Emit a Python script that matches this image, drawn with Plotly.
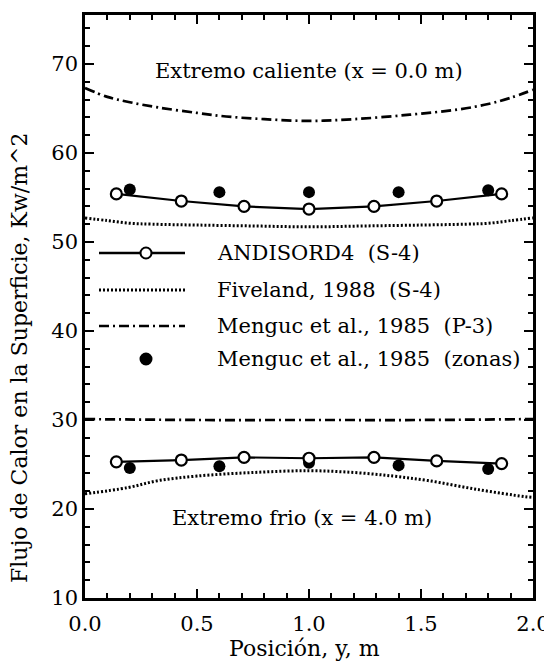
import plotly.graph_objects as go

# ---------------- data ----------------
# ANDISORD4 (S-4)
and_x = [0.14, 0.43, 0.71, 1.0, 1.29, 1.57, 1.86]
and_hot = [55.4, 54.6, 54.0, 53.7, 54.0, 54.6, 55.4]
and_cold = [25.3, 25.5, 25.8, 25.7, 25.8, 25.4, 25.1]

# Menguc et al., 1985 (zonas)
zon_x = [0.2, 0.6, 1.0, 1.4, 1.8]
zon_hot = [55.9, 55.6, 55.6, 55.6, 55.8]
zon_cold = [24.6, 24.8, 25.2, 24.9, 24.5]

# Fiveland, 1988 (S-4)
fiv_hot_x = [0.0, 0.1, 0.2, 0.3, 0.5, 0.75, 1.0, 1.25, 1.5, 1.7, 1.8, 1.9, 2.0]
fiv_hot = [52.7, 52.4, 52.1, 52.0, 51.9, 51.8, 51.7, 51.8, 51.9, 52.0, 52.1, 52.4, 52.7]
fiv_cold_x = [0.0, 0.19, 0.33, 0.5, 0.75, 1.0, 1.2, 1.375, 1.53, 1.75, 1.96, 2.0]
fiv_cold = [21.7, 22.4, 23.2, 23.7, 24.1, 24.3, 24.1, 23.7, 23.2, 22.2, 21.4, 21.3]

# Menguc et al., 1985 (P-3)
p3_hot_x = [0.0, 0.1, 0.2, 0.33, 0.5, 0.63, 0.8, 1.0, 1.2, 1.45, 1.67, 1.8, 1.9, 2.0]
p3_hot = [67.3, 66.3, 65.7, 65.1, 64.5, 64.1, 63.8, 63.6, 63.8, 64.3, 64.9, 65.5, 66.2, 67.1]
p3_cold_x = [0.0, 0.5, 1.0, 1.5, 2.0]
p3_cold = [30.1, 30.0, 30.0, 30.0, 30.1]

legend_names = ["ANDISORD4  (S-4)", "Fiveland, 1988  (S-4)",
                "Menguc et al., 1985  (P-3)", "Menguc et al., 1985  (zonas)"]

FONT = "DejaVu Serif"
BLACK = "black"
DOT = "2px,2px"
DASHDOT = "10px,4px,2px,4px"

fig = go.Figure()

# Fiveland dotted
for xs, ys in [(fiv_hot_x, fiv_hot), (fiv_cold_x, fiv_cold)]:
    fig.add_trace(go.Scatter(x=xs, y=ys, mode="lines", name=legend_names[1],
                             line=dict(color=BLACK, width=3, dash=DOT, shape="spline"),
                             showlegend=False))
# Menguc P-3 dash-dot
for xs, ys in [(p3_hot_x, p3_hot), (p3_cold_x, p3_cold)]:
    fig.add_trace(go.Scatter(x=xs, y=ys, mode="lines", name=legend_names[2],
                             line=dict(color=BLACK, width=2.7, dash=DASHDOT, shape="spline"),
                             showlegend=False))
# Menguc zonas (filled)
for ys in [zon_hot, zon_cold]:
    fig.add_trace(go.Scatter(x=zon_x, y=ys, mode="markers", name=legend_names[3],
                             marker=dict(color=BLACK, size=12, symbol="circle"),
                             showlegend=False))
# ANDISORD4 open circles with line
for ys in [and_hot, and_cold]:
    fig.add_trace(go.Scatter(x=and_x, y=ys, mode="lines+markers", name=legend_names[0],
                             line=dict(color=BLACK, width=2.2),
                             marker=dict(color="white", size=11, symbol="circle",
                                         line=dict(color=BLACK, width=2.2)),
                             showlegend=False))

# ---------------- layout geometry ----------------
# page has an 8px body margin; plot frame in page px: x 85..533, y 15..598
OFF = 8
W, H = 552 - OFF, 664 - OFF
L, R, T, B = 85, 533, 15, 598

def px2paper_x(px):
    return (px - L) / float(R - L)

def px2paper_y(py):
    return (B - py) / float(B - T)

shapes = []
annotations = []
rows_py = [253, 290, 326, 359]
styles = [dict(width=2.5, dash="solid"), dict(width=3, dash=DOT),
          dict(width=2.7, dash=DASHDOT), None]
for name, py, st in zip(legend_names, rows_py, styles):
    yy = px2paper_y(py)
    if st is not None:
        shapes.append(dict(type="line", xref="paper", yref="paper",
                           x0=px2paper_x(99), x1=px2paper_x(185), y0=yy, y1=yy,
                           line=dict(color=BLACK, width=st["width"], dash=st["dash"])))
    annotations.append(dict(text=name, xref="paper", yref="paper",
                            x=px2paper_x(215), y=yy, xanchor="left", yanchor="middle",
                            showarrow=False, font=dict(family=FONT, size=21, color=BLACK)))
# legend marker circles
for py, fill in [(rows_py[0], "white"), (rows_py[3], BLACK)]:
    cx, cy = px2paper_x(146), px2paper_y(py)
    rx, ry = 5.5 / float(R - L), 5.5 / float(B - T)
    shapes.append(dict(type="circle", xref="paper", yref="paper",
                       x0=cx - rx, x1=cx + rx, y0=cy - ry, y1=cy + ry,
                       fillcolor=fill, line=dict(color=BLACK, width=2)))

# region labels
annotations.append(dict(text="Extremo caliente (x = 0.0 m)", x=1.0, y=69.2,
                        xref="x", yref="y", showarrow=False,
                        font=dict(family=FONT, size=21, color=BLACK)))
annotations.append(dict(text="Extremo frio (x = 4.0 m)", x=0.97, y=19.0,
                        xref="x", yref="y", showarrow=False,
                        font=dict(family=FONT, size=21, color=BLACK)))
# y title
annotations.append(dict(text="Flujo de Calor en la Superficie, Kw/m^2",
                        xref="paper", yref="paper", x=px2paper_x(20), y=px2paper_y(358),
                        textangle=-90, showarrow=False, xanchor="center", yanchor="middle",
                        font=dict(family=FONT, size=22, color=BLACK)))
# x title
annotations.append(dict(text="Posición, y, m", xref="paper", yref="paper",
                        x=px2paper_x(304), y=px2paper_y(648),
                        xanchor="center", yanchor="middle", showarrow=False,
                        font=dict(family=FONT, size=22, color=BLACK)))

axis_common = dict(showgrid=False, zeroline=False, showline=True, linecolor=BLACK,
                   linewidth=2.5, mirror="ticks", ticks="inside", tickcolor=BLACK,
                   tickwidth=2, ticklen=9, automargin=False,
                   tickfont=dict(family=FONT, size=21, color=BLACK))

fig.update_xaxes(range=[0, 2], tick0=0, dtick=0.5, tickformat=".1f",
                 ticklabelstandoff=5,
                 minor=dict(dtick=0.1, ticks="inside", ticklen=5, tickwidth=2,
                            tickcolor=BLACK, showgrid=False),
                 **axis_common)
fig.update_yaxes(range=[10, 75.5], tick0=10, dtick=10,
                 minor=dict(dtick=2, ticks="inside", ticklen=5, tickwidth=2,
                            tickcolor=BLACK, showgrid=False),
                 **axis_common)

fig.update_layout(width=W, height=H, plot_bgcolor="white", paper_bgcolor="white",
                  margin=dict(l=L - OFF, r=552 - R, t=T - OFF, b=664 - B),
                  shapes=shapes, annotations=annotations, showlegend=False,
                  font=dict(family=FONT, color=BLACK))

fig.write_html("out.html")
